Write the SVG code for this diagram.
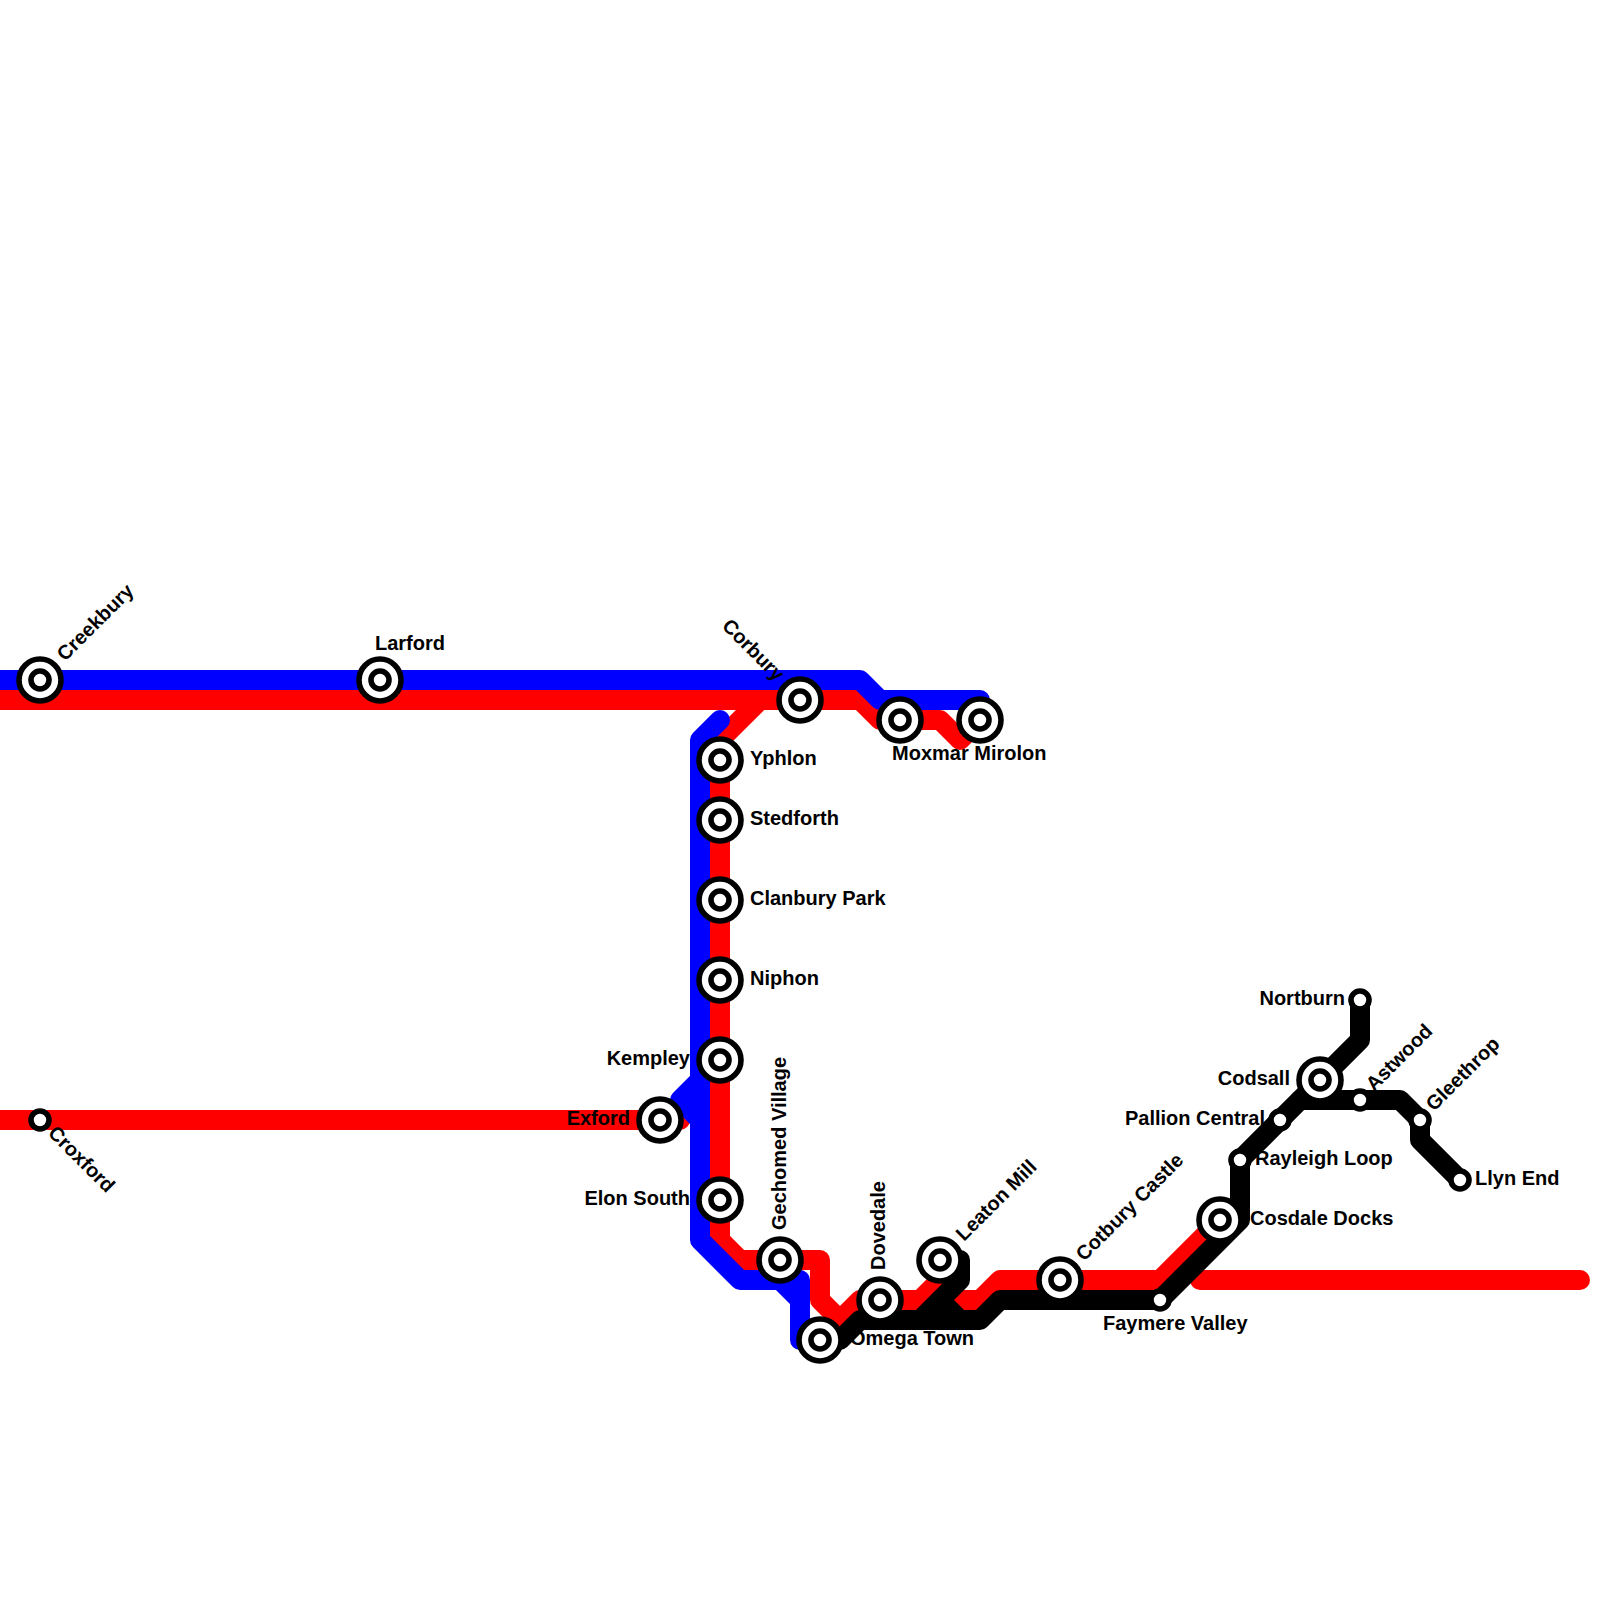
<svg xmlns="http://www.w3.org/2000/svg" width="1600" height="1600" viewBox="0 0 1600 1600">
<style>
.l{fill:none;stroke-width:20;stroke-linecap:round;stroke-linejoin:round}
.r{stroke:#f00}.b{stroke:#00f}.k{stroke:#000}
.o{fill:#fff;stroke:#000;stroke-width:5.6}
.t{font-family:"Liberation Sans",Arial,sans-serif;font-weight:700;font-size:20px;fill:#000}
.e{text-anchor:end}
</style>
<defs>
<g id="big"><circle r="21" class="o"/><circle r="9" class="o"/></g>
<circle id="small" r="9" class="o"/>
</defs>
<g id="connectors">
<path class="l r" d="M-20 700H760L720 740V1240L740 1260H820V1300L840 1320L860 1300H920L940 1280L960 1300H980L1000 1280H1160L1220 1220"/>
<path class="l r" d="M760 700H860L880 720H940L960 740L980 720"/>
<path class="l r" d="M-20 1120H680"/>
<path class="l r" d="M1200 1280H1580"/>
<path class="l b" d="M-20 680H860L880 700H980V720"/>
<path class="l b" d="M720 720L700 740V1240L740 1280H780L800 1300V1340H820"/>
<path class="l b" d="M780 1280H800V1300"/>
<path class="l b" d="M700 1080L680 1100L700 1120"/>
<path class="l k" d="M820 1340H840L860 1320H980L1000 1300H1160L1240 1220V1160L1300 1100H1400L1420 1120V1140L1460 1180"/>
<path class="l k" d="M920 1320L960 1280V1260H940"/>
<path class="l k" d="M940 1300L960 1320"/>
<path class="l k" d="M1300 1100L1360 1040V1000"/>
</g>
<g id="creekbury"><use href="#big" x="40" y="680"/><text class="t" transform="translate(65 662) rotate(-45)">Creekbury</text></g>
<g id="larford"><use href="#big" x="380" y="680"/><text class="t" x="375" y="650">Larford</text></g>
<g id="corbury"><use href="#big" x="800" y="700"/><text class="t e" transform="translate(776 682) rotate(45)">Corbury</text></g>
<g id="moxmar-mirolon"><use href="#big" x="900" y="720"/><text class="t" x="892" y="760">Moxmar Mirolon</text></g>
<g id="station-980"><use href="#big" x="980" y="720"/></g>
<g id="yphlon"><use href="#big" x="720" y="760"/><text class="t" x="750" y="765">Yphlon</text></g>
<g id="stedforth"><use href="#big" x="720" y="820"/><text class="t" x="750" y="825">Stedforth</text></g>
<g id="clanbury-park"><use href="#big" x="720" y="900"/><text class="t" x="750" y="905">Clanbury Park</text></g>
<g id="niphon"><use href="#big" x="720" y="980"/><text class="t" x="750" y="985">Niphon</text></g>
<g id="kempley"><use href="#big" x="720" y="1060"/><text class="t e" x="690" y="1065">Kempley</text></g>
<g id="exford"><use href="#big" x="660" y="1120"/><text class="t e" x="630" y="1125">Exford</text></g>
<g id="elon-south"><use href="#big" x="720" y="1200"/><text class="t e" x="690" y="1205">Elon South</text></g>
<g id="gechomed-village"><use href="#big" x="780" y="1260"/><text class="t" transform="translate(785.5 1230) rotate(-90)">Gechomed Village</text></g>
<g id="omega-town"><use href="#big" x="820" y="1340"/><text class="t" x="850" y="1345">Omega Town</text></g>
<g id="dovedale"><use href="#big" x="880" y="1300"/><text class="t" transform="translate(885 1270) rotate(-90)">Dovedale</text></g>
<g id="leaton-mill"><use href="#big" x="940" y="1260"/><text class="t" transform="translate(964 1242) rotate(-45)">Leaton Mill</text></g>
<g id="cotbury-castle"><use href="#big" x="1060" y="1280"/><text class="t" transform="translate(1084 1262) rotate(-45)">Cotbury Castle</text></g>
<g id="faymere-valley"><use href="#small" x="1160" y="1300"/><text class="t" x="1103" y="1330">Faymere Valley</text></g>
<g id="cosdale-docks"><use href="#big" x="1220" y="1220"/><text class="t" x="1250" y="1225">Cosdale Docks</text></g>
<g id="rayleigh-loop"><use href="#small" x="1240" y="1160"/><text class="t" x="1255" y="1165">Rayleigh Loop</text></g>
<g id="pallion-central"><use href="#small" x="1280" y="1120"/><text class="t e" x="1265" y="1125">Pallion Central</text></g>
<g id="codsall"><use href="#big" x="1320" y="1080"/><text class="t e" x="1290" y="1085">Codsall</text></g>
<g id="astwood"><use href="#small" x="1360" y="1100"/><text class="t" transform="translate(1374 1092) rotate(-45)">Astwood</text></g>
<g id="gleethrop"><use href="#small" x="1420" y="1120"/><text class="t" transform="translate(1434 1112) rotate(-45)">Gleethrop</text></g>
<g id="llyn-end"><use href="#small" x="1460" y="1180"/><text class="t" x="1475" y="1185">Llyn End</text></g>
<g id="nortburn"><use href="#small" x="1360" y="1000"/><text class="t e" x="1345" y="1005">Nortburn</text></g>
<g id="croxford"><use href="#small" x="40" y="1120"/><text class="t" transform="translate(47 1134) rotate(45)">Croxford</text></g>
</svg>
